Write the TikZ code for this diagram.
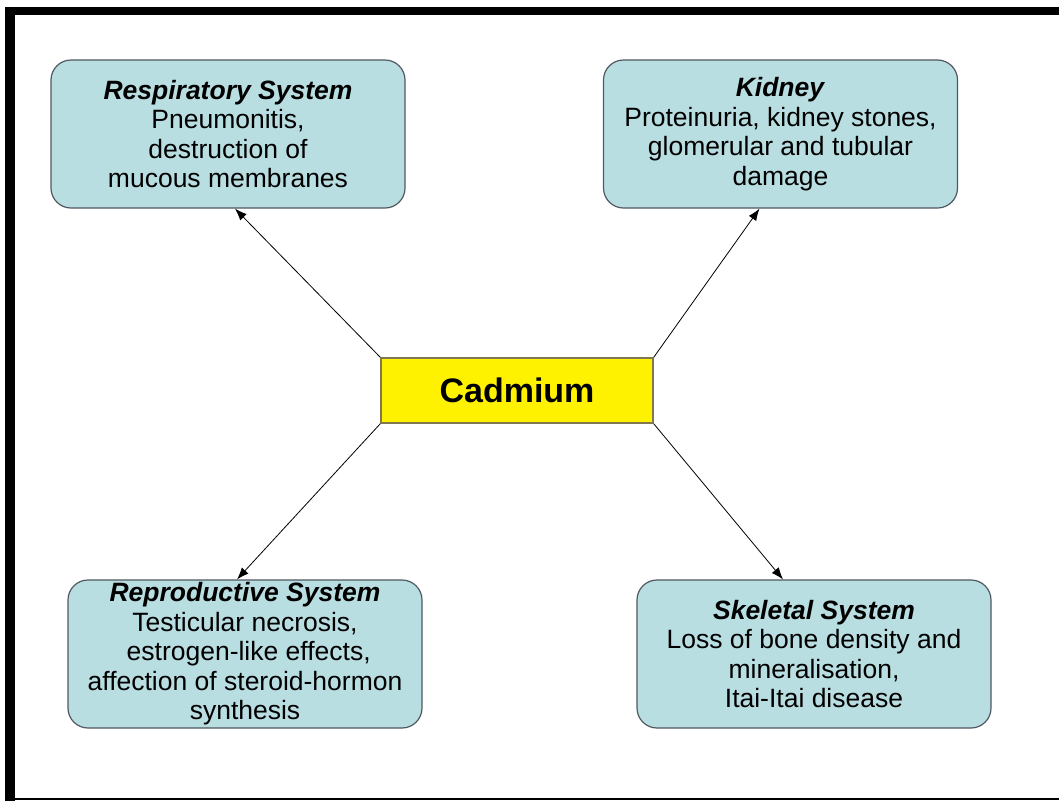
\documentclass[tikz,border=0pt]{standalone}
\usepackage{fontspec}
\setmainfont{Liberation Sans}
\usetikzlibrary{arrows.meta}
\definecolor{boxfill}{RGB}{185,222,226}
\definecolor{boxline}{RGB}{80,88,96}
\definecolor{cadline}{RGB}{130,120,80}
\tikzset{
  effect/.style={draw=boxline, line width=1.2pt, fill=boxfill, rounded corners=20pt,
    minimum width=354pt, minimum height=148pt, align=center, inner sep=0pt,
    font=\fontsize{26.5pt}{29.5pt}\selectfont},
  core/.style={draw=cadline, line width=1.5pt, fill=yellow, minimum width=272pt,
    minimum height=65pt, inner sep=0pt, font=\fontsize{34pt}{38pt}\selectfont\bfseries},
  link/.style={line width=0.8pt, -{Latex[length=12pt,width=9pt]}}
}
\begin{document}
\begin{tikzpicture}[x=1pt,y=-1pt]
\useasboundingbox (0,0) rectangle (1059,801);
\fill[white] (0,0) rectangle (1059,801);
% frame
\fill[black] (5,7) rectangle (1059,15);
\fill[black] (5,7) rectangle (15,801);
\draw[black, line width=1.5pt] (5,799) -- (1059,799);
% nodes
\node[core] (cad) at (517,390.5) {Cadmium};
\node[effect] (resp) at (228,134) {\textbf{\textit{Respiratory System}}\\Pneumonitis,\\destruction of\\mucous membranes};
\node[effect] (kid) at (780.5,134) {\textbf{\textit{Kidney}}\\Proteinuria, kidney stones,\\glomerular and tubular\\damage};
\node[effect] (rep) at (245,654) {\textbf{\textit{Reproductive System}}\\Testicular necrosis,\\\ estrogen-like effects,\\affection of steroid-hormon\\synthesis};
\node[effect] (ske) at (814,654) {\textbf{\textit{Skeletal System}}\\Loss of bone density and\\mineralisation,\\Itai-Itai disease};
% connectors
\draw[link] (cad.north west) -- ([xshift=7pt]resp.south);
\draw[link] (cad.north east) -- ([xshift=-21pt]kid.south);
\draw[link] (cad.south west) -- ([xshift=-8pt]rep.north);
\draw[link] (cad.south east) -- ([xshift=-31pt]ske.north);
\end{tikzpicture}
\end{document}
